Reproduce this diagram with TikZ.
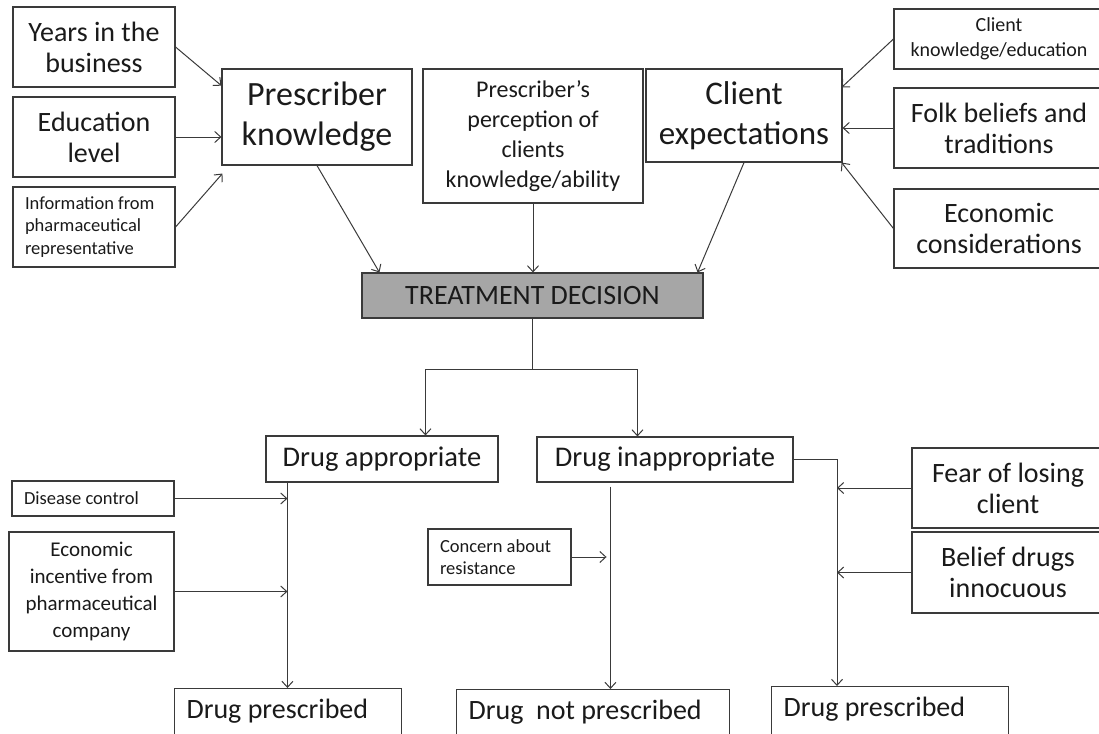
\documentclass[tikz,border=0pt]{standalone}
\usepackage{fontspec}
\setmainfont{Carlito}
\usetikzlibrary{arrows.meta,calc}
\definecolor{tgray}{HTML}{A6A6A6}
\definecolor{ink}{HTML}{1A1A1A}
\definecolor{edgec}{HTML}{3A3A3A}
\begin{document}
\begin{tikzpicture}[x=1pt,y=-1pt,
  box/.style={draw=edgec, line width=1.1pt, inner sep=0pt, align=center, text=ink},
  arr/.style={draw=edgec, line width=1pt, -{Straight Barb[length=6pt,width=11pt]}},
  fA/.style={font=\fontsize{28}{31}\selectfont},
  fB/.style={font=\fontsize{28.5}{32}\selectfont},
  fS/.style={font=\fontsize{18.5}{22}\selectfont},
  lbox/.style={align=flush left, inner xsep=12pt},
  bot/.style={box, font=\fontsize{28}{31}\selectfont, align=flush left, inner xsep=12pt, inner ysep=0pt, text height=30pt, text depth=27pt, anchor=north west}
]
\useasboundingbox (0,0) rectangle (1099,733);

% top-left inputs
\node[box,fA,minimum width=162pt,minimum height=80pt] (years) at (94,47) {Years in the\\business};
\node[box,fA,minimum width=162pt,minimum height=80pt] (edu) at (94,137) {Education\\level};
\node[box,lbox,font=\fontsize{18.5}{22.5}\selectfont,minimum width=162pt,minimum height=80pt,text width=138pt] (info) at (94,227) {Information from\\pharmaceutical\\representative};

% top row
\node[box,font=\fontsize{34}{40}\selectfont,minimum width=190pt,minimum height=96pt] (pk) at (317,117) {Prescriber\\knowledge};
\node[box,font=\fontsize{24}{30}\selectfont,minimum width=220pt,minimum height=134pt] (perc) at (533,136) {Prescriber’s\\perception of\\clients\\knowledge/ability};
\node[box,font=\fontsize{33}{40}\selectfont,minimum width=196pt,minimum height=93pt] (ce) at (744,115.5) {Client\\expectations};

% top-right inputs
\node[box,font=\fontsize{20}{25}\selectfont,minimum width=210pt,minimum height=60pt] (ck) at (999,39) {Client\\knowledge/education};
\node[box,fA,minimum width=210pt,minimum height=80pt] (folk) at (999,128) {Folk beliefs and\\traditions};
\node[box,fA,minimum width=210pt,minimum height=79pt] (econ) at (999,228.5) {Economic\\considerations};

% decision
\node[box,fill=tgray,font=\fontsize{28}{32}\selectfont,minimum width=341pt,minimum height=45pt] (treat) at (532.5,295.5) {TREATMENT DECISION};

\node[box,fB,minimum width=232pt,minimum height=46pt] (dapp) at (382,459) {Drug appropriate};
\node[box,fB,minimum width=256pt,minimum height=45pt] (dinapp) at (665,459.5) {Drug inappropriate};

% lower-left inputs
\node[box,lbox,fS,minimum width=162pt,minimum height=35pt,text width=138pt] (disease) at (93,498.5) {Disease control};
\node[box,font=\fontsize{21}{27}\selectfont,minimum width=165pt,minimum height=119pt] (einc) at (91.5,591.5) {Economic\\incentive from\\pharmaceutical\\company};
\node[box,lbox,fS,minimum width=143pt,minimum height=56pt,text width=119pt] (concern) at (499.5,557) {Concern about\\resistance};

% lower-right inputs
\node[box,fA,minimum width=192pt,minimum height=80pt] (fear) at (1008,488) {Fear of losing\\client};
\node[box,fA,minimum width=192pt,minimum height=81pt] (belief) at (1008,572.5) {Belief drugs\\innocuous};

% outcomes
\node[bot,text width=203pt] (dp1) at (174,688) {Drug prescribed};
\node[bot,text width=249pt] (dnp) at (456,689) {Drug\ \ not prescribed};
\node[bot,text width=213pt] (dp2) at (771,686) {Drug prescribed};

% connectors: top
\draw[arr] (years.east) -- ($(pk.north west)!0.177!(pk.south west)$);
\draw[arr] (edu.east) -- (edu.east -| pk.west);
\draw[arr] (info.east) -- ($(pk.south west)+(1,8)$);
\draw[arr] (pk.south) -- ($(treat.north west)+(18,0)$);
\draw[arr] (perc.south) -- (perc.south |- treat.north);
\draw[arr] (ce.south) -- ($(treat.north east)+(-6,0)$);
\draw[arr] (ck.west) -- ($(ce.north east)+(-1,19)$);
\draw[arr] (folk.west) -- (folk.west -| ce.east);
\draw[arr] (econ.west) -- ($(ce.south east)+(-1,0)$);

% split
\draw[arr] (treat.south) -- ++(0,51) -| ($(dapp.north west)+(160,0)$);
\draw[arr] (treat.south) -- ++(0,51) -| ($(dinapp.north west)+(101,0)$);

% drug appropriate branch
\coordinate (vl) at ($(dapp.south west)+(22,0)$);
\draw[arr] (vl) -- (vl |- dp1.north);
\draw[arr] (disease.east) -- (disease.east -| vl);
\draw[arr] (einc.east) -- (einc.east -| vl);

% drug inappropriate -> not prescribed
\coordinate (vm) at ($(dinapp.south west)+(74,4)$);
\draw[arr] (vm) -- (vm |- dnp.north);
\draw[arr] (concern.east) -- ++(35,0);

% drug inappropriate -> prescribed
\coordinate (vr) at ($(dp2.north west)+(66,0)$);
\draw[arr] (dinapp.east) -| (vr);
\draw[arr] (fear.west) -- (fear.west -| vr);
\draw[arr] (belief.west) -- (belief.west -| vr);
\end{tikzpicture}
\end{document}
